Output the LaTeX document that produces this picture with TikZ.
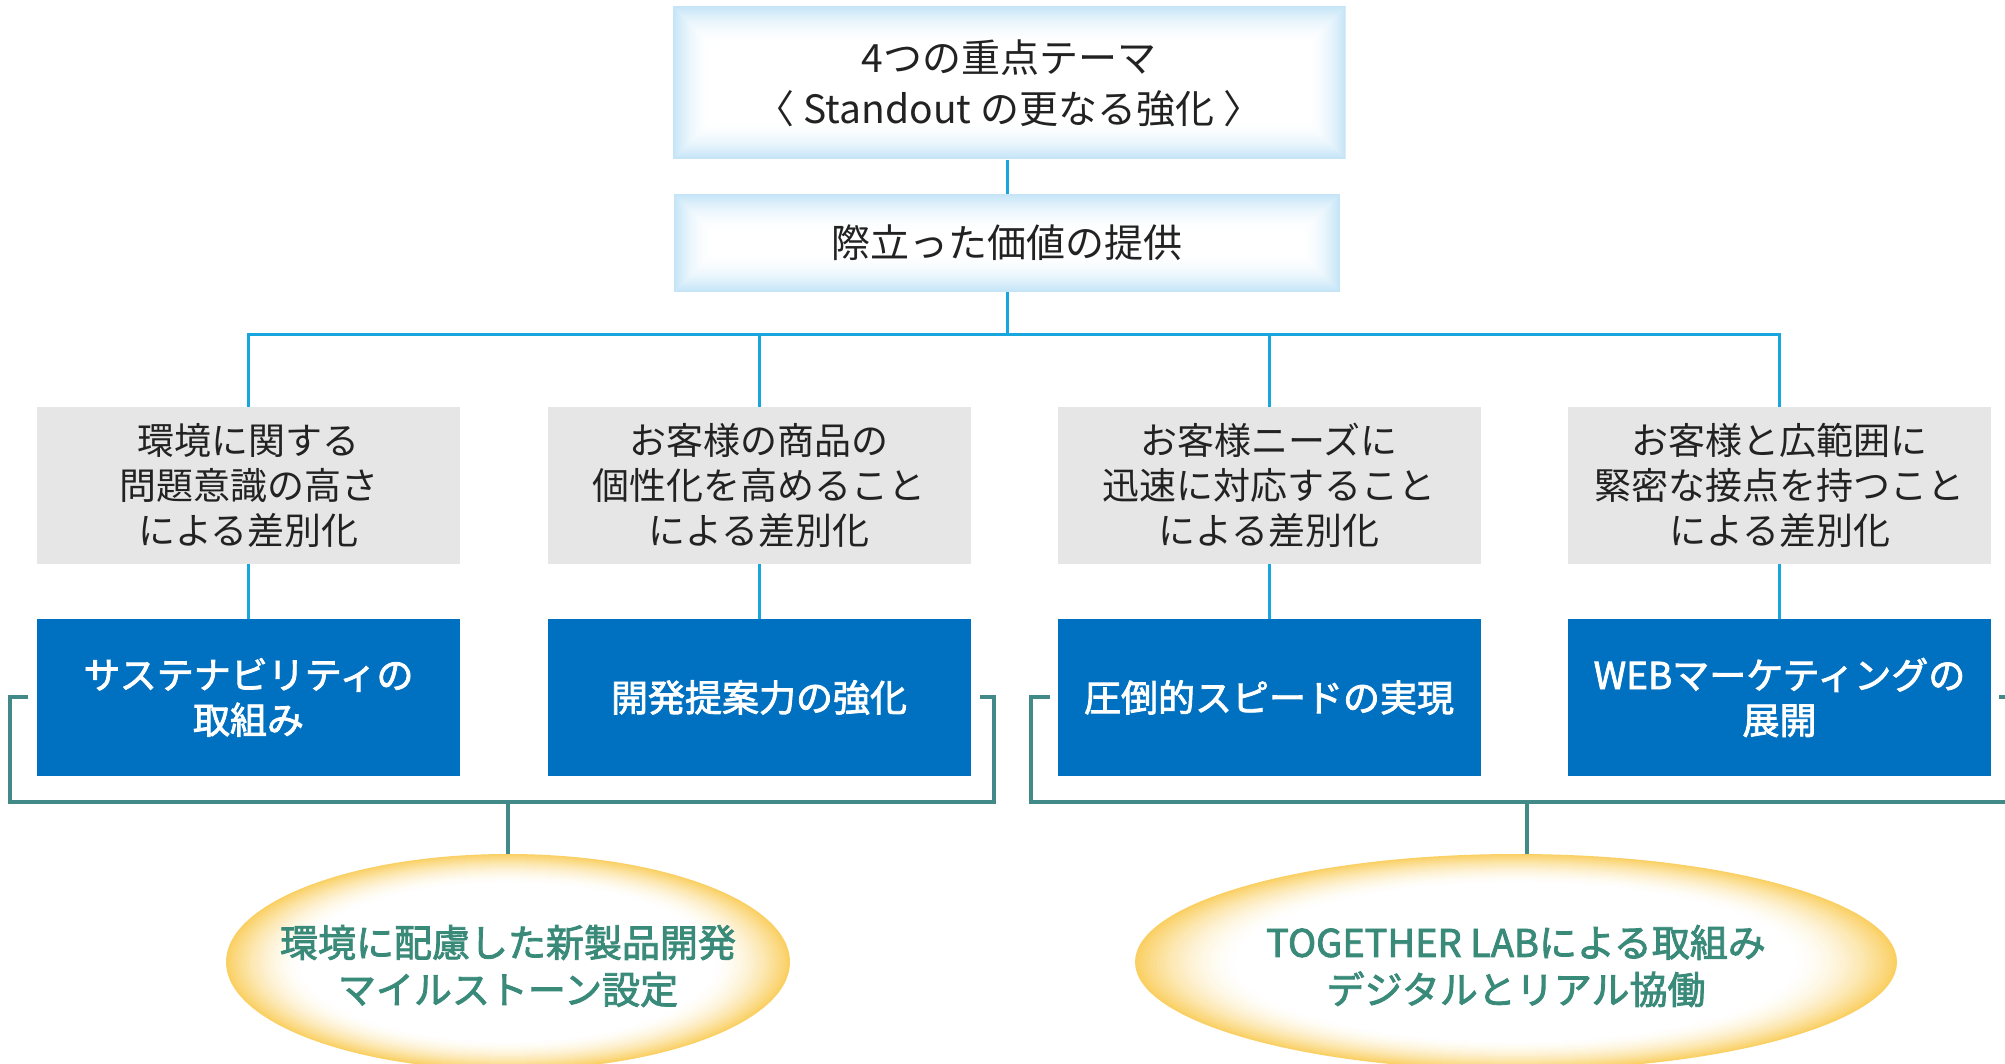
\documentclass[tikz,border=0pt]{standalone}
\usepackage{fontspec}
\setmainfont{Noto Sans CJK JP}
\newfontfamily\medfont[FakeBold=2.2]{Noto Sans CJK JP}
\usetikzlibrary{shapes.geometric}
\definecolor{cyanln}{RGB}{24,166,222}
\definecolor{boxblue}{RGB}{0,112,192}
\definecolor{graybox}{RGB}{230,230,230}
\definecolor{tealln}{RGB}{66,138,136}
\definecolor{tealtxt}{RGB}{58,138,122}
\definecolor{glowblue}{RGB}{196,228,247}
\definecolor{goldc}{RGB}{250,208,100}
\definecolor{txt}{RGB}{34,34,34}
\newcommand{\goldglowfill}[3]{%
  \foreach \k in {0,...,30}{%
    \pgfmathsetmacro{\s}{1-\k*0.0093}%
    \pgfmathtruncatemacro{\p}{100*((\s-0.72)/0.28)^1.8}%
    \fill[goldc!\p!white] (#1.center) ellipse [x radius=\s*#2 pt, y radius=\s*#3 pt];}}
\tikzset{
  glowbox/.style={rectangle, inner sep=0pt, align=center, text=txt,
    font=\fontsize{39}{51}\selectfont,
    path picture={\foreach \i in {0,...,39}{\pgfmathtruncatemacro{\p}{100*(1-\i/40)^2}
      \fill[glowblue!\p!white] ([xshift=\i pt,yshift=\i pt]path picture bounding box.south west) rectangle ([xshift=-\i pt,yshift=-\i pt]path picture bounding box.north east);}}},
  graynode/.style={rectangle, inner sep=0pt, fill=graybox, align=center, text=txt,
    minimum width=423pt, minimum height=157pt, font=\fontsize{37}{45}\selectfont},
  bluenode/.style={rectangle, inner sep=0pt, fill=boxblue, align=center, text=white,
    minimum width=423pt, minimum height=157pt, font=\medfont\fontsize{37}{45}\selectfont},
  goldell/.style={ellipse, inner sep=0pt},
  elltext/.style={align=center, text=tealtxt, inner sep=0pt, font=\medfont\fontsize{38}{47}\selectfont},
  cyanline/.style={draw=cyanln, line width=3pt},
  tealline/.style={draw=tealln, line width=3.5pt},
}
\begin{document}
\begin{tikzpicture}[x=1pt,y=-1pt]
\useasboundingbox (0,0) rectangle (2005,1064);
\clip (0,0) rectangle (2005,1064);
\fill[white] (0,0) rectangle (2005,1064);

\node[glowbox, minimum width=673pt, minimum height=153pt] (top) at (1009,83) {4つの重点テーマ\\〈 Standout の更なる強化 〉};
\node[glowbox, minimum width=666pt, minimum height=98pt] (val) at (1007,243) {際立った価値の提供};

\node[graynode] (g1) at (248.5,485.5) {環境に関する\\問題意識の高さ\\による差別化};
\node[graynode] (g2) at (759,485.5) {お客様の商品の\\個性化を高めること\\による差別化};
\node[graynode] (g3) at (1269,485.5) {お客様ニーズに\\迅速に対応すること\\による差別化};
\node[graynode] (g4) at (1779.5,485.5) {お客様と広範囲に\\緊密な接点を持つこと\\による差別化};

\node[bluenode] (b1) at (248.5,697.5) {サステナビリティの\\取組み};
\node[bluenode] (b2) at (759,697.5) {開発提案力の強化};
\node[bluenode] (b3) at (1269,697.5) {圧倒的スピードの実現};
\node[bluenode] (b4) at (1779.5,697.5) {WEBマーケティングの\\展開};

\node[goldell, minimum width=564pt, minimum height=216pt] (e1) at (508,962) {};
\goldglowfill{e1}{282}{108}
\node[elltext] (e1t) at (508,966) {環境に配慮した新製品開発\\マイルストーン設定};
\node[goldell, minimum width=762pt, minimum height=216pt] (e2) at (1516,962) {};
\goldglowfill{e2}{381}{108}
\node[elltext] (e2t) at (1516,966) {TOGETHER LABによる取組み\\デジタルとリアル協働};

% cyan connectors
\coordinate (hub) at (1007,335);
\draw[cyanline] (val.north |- top.south) -- (val.north);
\draw[cyanline] (val.south) -- (hub);
\draw[cyanline] (g1.north) -- (g1.north |- hub) -- (g4.north |- hub) -- (g4.north);
\draw[cyanline] (g2.north |- hub) -- (g2.north);
\draw[cyanline] (g3.north |- hub) -- (g3.north);
\draw[cyanline] (g1.south) -- (b1.north);
\draw[cyanline] (g2.south) -- (b2.north);
\draw[cyanline] (g3.south) -- (b3.north);
\draw[cyanline] (g4.south) -- (b4.north);

% teal brackets
\coordinate (l1) at (28,697);
\coordinate (l2) at (980,697);
\coordinate (lm) at (508,802);
\draw[tealline] (l1) -- (10,697) -- (10,802) -- (994,802) -- (994,697) -- (l2);
\draw[tealline] (lm) -- (e1.north);
\coordinate (r1) at (1050,697);
\coordinate (r2) at (1999,697);
\coordinate (rm) at (1527,802);
\draw[tealline] (r1) -- (1031,697) -- (1031,802) -- (2020,802) -- (2020,697) -- (r2);
\draw[tealline] (rm) -- (rm |- e2.north);
\end{tikzpicture}
\end{document}
